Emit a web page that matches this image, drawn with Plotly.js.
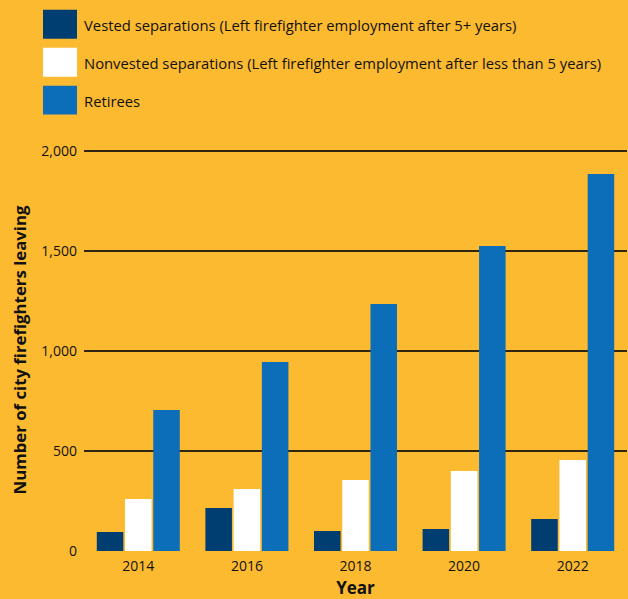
<!DOCTYPE html>
<html>
<head>
<meta charset="utf-8">
<script src="https://cdn.plot.ly/plotly-3.0.1.min.js"></script>
<style>
html,body{margin:0;padding:0;background:#FCBA30;}
#chart{width:628px;height:599px;}
</style>
</head>
<body>
<div id="chart"></div>
<script>
// ---- data ----
const years = ["2014", "2016", "2018", "2020", "2022"];
const seriesNames = [
  "Vested separations (Left firefighter employment after 5+ years)",
  "Nonvested separations (Left firefighter employment after less than 5 years)",
  "Retirees"
];
const vested = [95, 215, 100, 110, 160];
const nonvested = [260, 310, 355, 400, 455];
const retirees = [705, 945, 1235, 1525, 1885];
const yTickVals = [0, 500, 1000, 1500, 2000];
const yTickText = ["0", "500", "1,000", "1,500", "2,000"];

// ---- styling ----
const colors = ["#003D70", "#FFFFFF", "#0C6DB8"];
const bg = "#FCBA30";
const W = 628, H = 599;
const M = {l: 84, r: 1, t: 148.5, b: 47.5};
const pw = W - M.l - M.r, ph = H - M.t - M.b;
const px = x => (x - M.l) / pw;
const py = y => (H - M.b - y) / ph;

const values = [vested, nonvested, retirees];
const traces = values.map((v, i) => ({
  type: "bar",
  x: years,
  y: v,
  name: seriesNames[i],
  marker: {color: colors[i], line: {width: 0}},
  hoverinfo: "x+y"
}));

const legendRows = [[9, 38], [47, 76], [85, 114]];
const shapes = legendRows.map((r, i) => ({
  type: "rect", xref: "paper", yref: "paper",
  x0: px(43), x1: px(77), y0: py(r[1]), y1: py(r[0]),
  fillcolor: colors[i], line: {width: 0}, layer: "above"
}));
const annotations = legendRows.map((r, i) => ({
  xref: "paper", yref: "paper",
  x: px(82), y: py((r[0] + r[1]) / 2 + 1),
  xanchor: "left", yanchor: "middle",
  text: seriesNames[i], showarrow: false,
  font: {family: "Open Sans, sans-serif", size: 14.8, color: "#111"}
}));

const layout = {
  width: W, height: H,
  margin: M,
  paper_bgcolor: bg, plot_bgcolor: bg,
  showlegend: false,
  barmode: "group",
  bargap: 0.22,
  bargroupgap: 0.06,
  font: {family: "Open Sans, sans-serif", size: 14, color: "#111"},
  xaxis: {
    type: "category",
    range: [-0.5, 4.5],
    showgrid: false, zeroline: false, showline: false,
    ticks: "",
    ticklabelstandoff: 5,
    tickfont: {size: 14, color: "#111"},
    title: {text: "<b>Year</b>", font: {size: 17, color: "#111"}, standoff: 14}
  },
  yaxis: {
    range: [0, 2010],
    tickvals: yTickVals, ticktext: yTickText,
    showgrid: true, gridcolor: "#2E2610", gridwidth: 1.6,
    zeroline: false, showline: false,
    ticks: "",
    ticklabelstandoff: 6,
    tickfont: {size: 14, color: "#111"},
    title: {text: "<b>Number of city firefighters leaving</b>", font: {size: 16.8, color: "#111"}, standoff: 10}
  },
  shapes: shapes,
  annotations: annotations
};

Plotly.newPlot("chart", traces, layout, {displayModeBar: false, staticPlot: true});
</script>
</body>
</html>
